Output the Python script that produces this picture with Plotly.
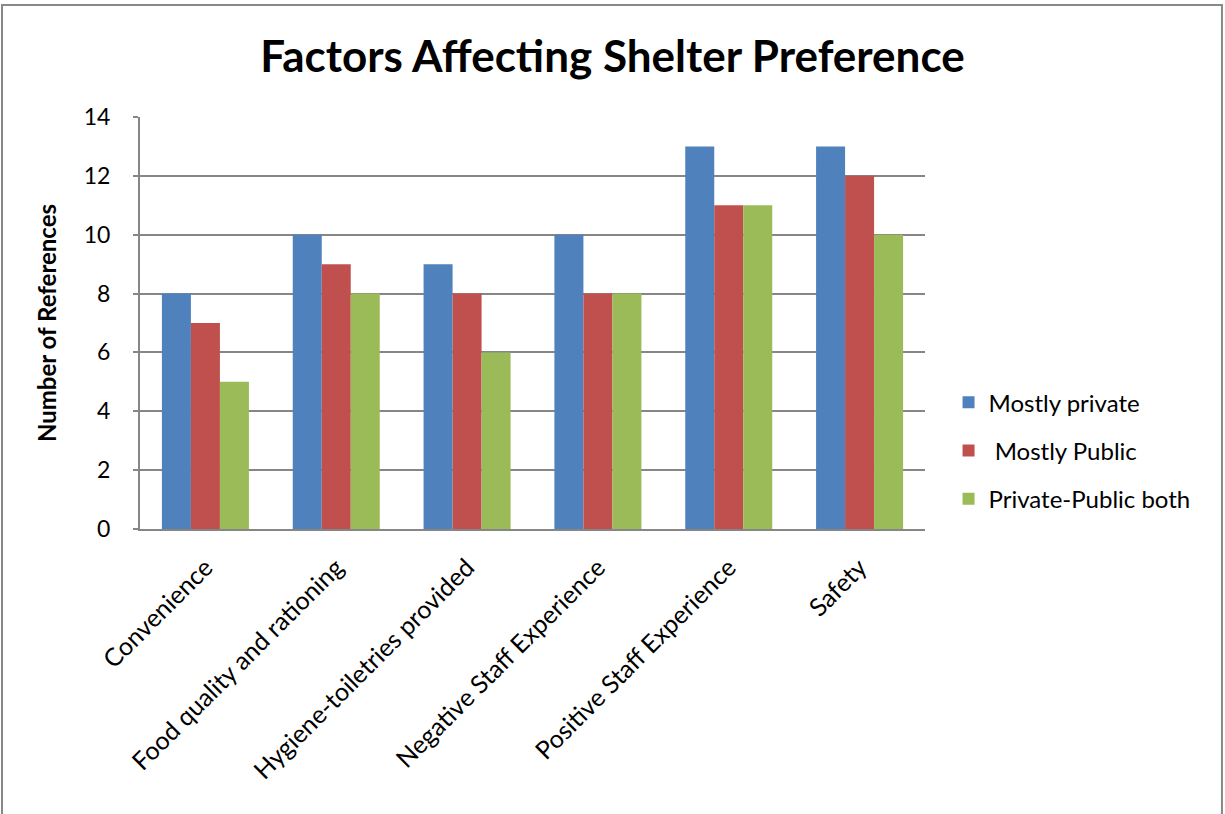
import plotly.graph_objects as go

categories = [
    "Convenience",
    "Food quality and rationing",
    "Hygiene-toiletries provided",
    "Negative Staff Experience",
    "Positive Staff Experience",
    "Safety",
]
mostly_private = [8, 10, 9, 10, 13, 13]
mostly_public = [7, 9, 8, 8, 11, 12]
private_public_both = [5, 8, 6, 8, 11, 10]

series = [
    ("Mostly private", mostly_private, "#4F81BD"),
    (" Mostly Public", mostly_public, "#C0504D"),
    ("Private-Public both", private_public_both, "#9BBB59"),
]

FONT = "Lato, Open Sans, sans-serif"
GRID = "#868686"

fig = go.Figure()
for name, vals, color in series:
    fig.add_trace(go.Bar(x=categories, y=vals, name=name, legendgroup=name,
                         marker=dict(color=color, line=dict(width=0))))

fig.update_layout(
    width=1225,
    height=814,
    margin=dict(l=140, r=300, t=117, b=285),
    paper_bgcolor="white",
    plot_bgcolor="white",
    barmode="group",
    bargap=0.335,
    bargroupgap=0,
    font=dict(family=FONT, color="black", size=24),
    title=dict(
        text="<b>Factors Affecting Shelter Preference</b>",
        x=0.5, xref="container", xanchor="center",
        y=1 - 57 / 814, yref="container", yanchor="middle",
        font=dict(size=44, family=FONT, color="black"),
    ),
    showlegend=True,
    legend=dict(
        x=1.03, xanchor="left", y=0.19, yanchor="middle",
        font=dict(size=24, family=FONT),
        itemwidth=30, tracegroupgap=14,
        traceorder="grouped",
        bgcolor="rgba(0,0,0,0)",
    ),
    shapes=[
        dict(type="rect", xref="paper", yref="paper",
             x0=-0.1758, x1=1.3783, y0=-0.8, y1=1.2718,
             line=dict(color="#888888", width=2), fillcolor="rgba(0,0,0,0)", layer="below"),
    ],
)

fig.update_xaxes(
    showgrid=False,
    showline=True, linecolor=GRID, linewidth=2,
    tickangle=-45,
    tickfont=dict(size=25, family=FONT),
    ticks="",
    ticklabelstandoff=12,
)
fig.update_yaxes(
    range=[0, 14], dtick=2,
    showgrid=True, gridcolor=GRID, gridwidth=1.5,
    showline=True, linecolor=GRID, linewidth=2,
    ticks="outside", ticklen=5, tickcolor=GRID, tickwidth=1.5,
    tickfont=dict(size=23, family=FONT),
    ticklabelstandoff=18,
    zeroline=False,
    title=dict(text="<b>Number of References</b>", font=dict(size=24, family=FONT), standoff=20),
)

fig.write_html("out.html")
